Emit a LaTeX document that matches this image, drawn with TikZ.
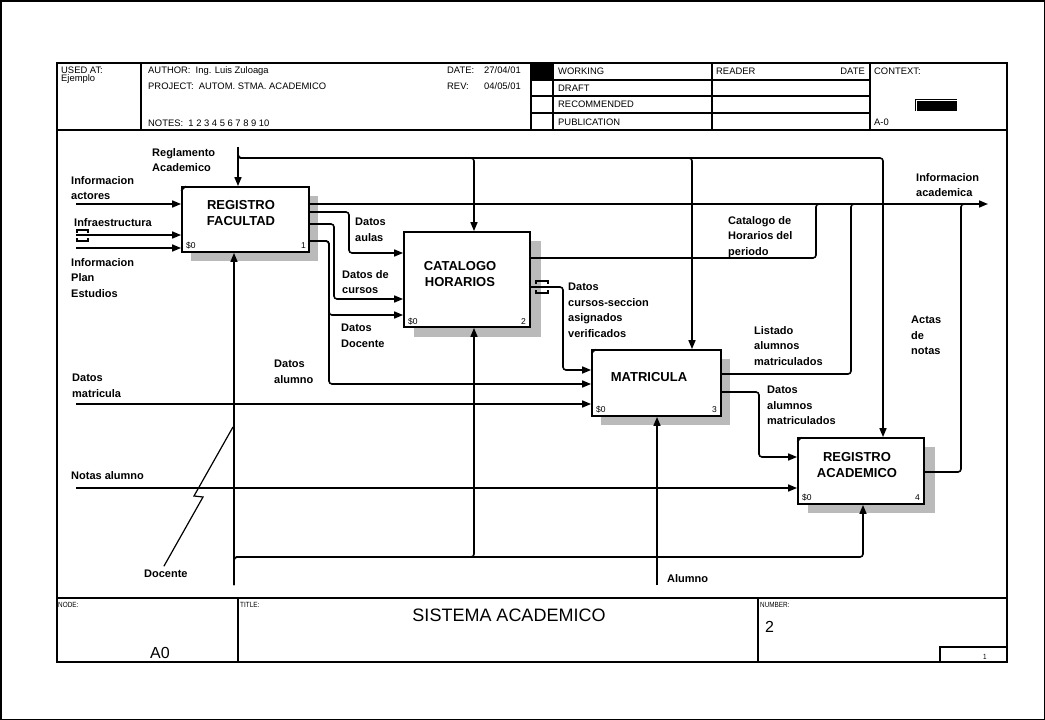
\documentclass[tikz,border=0pt]{standalone}
\usepackage{fontspec}
\setmainfont{Liberation Sans}
\newfontfamily\narrowfont[FakeStretch=0.85]{Liberation Sans}
\usetikzlibrary{arrows.meta}
\begin{document}
\begin{tikzpicture}[x=1pt,y=-1pt,
  ln/.style={line width=1.6pt, rounded corners=3pt},
  arr/.style={ln, -{Triangle[length=9pt,width=7pt]}},
  box/.style={draw, line width=1.8pt, fill=white, inner sep=0pt, rectangle},
  boxshadow/.style={fill=black!27},
  tick/.style={line width=1pt},
  tun/.style={line width=1.4pt},
  lbl/.style={font=\bfseries\fontsize{11}{15.5}\selectfont, align=left, inner sep=0pt, anchor=north west},
  lbl1/.style={font=\bfseries\fontsize{11}{15.5}\selectfont, inner sep=0pt, anchor=base west},
  ttl/.style={font=\bfseries\fontsize{13}{16}\selectfont, align=center, inner sep=0pt, anchor=north},
  hd/.style={font=\fontsize{9.4}{11}\selectfont, inner sep=0pt, anchor=base west},
  sm/.style={font=\fontsize{8.5}{10}\selectfont, inner sep=0pt, anchor=base west},
  ft/.style={font=\narrowfont\fontsize{7.5}{9}\selectfont, inner sep=0pt, anchor=base west},
  frm/.style={line width=1.3pt},
]
\useasboundingbox (0,0) rectangle (1045,720);
\draw[line width=1.5pt] (0.75,0.75) rectangle (1044.25,719.25);
% frame
\draw[frm] (57,63) rectangle (1007,662);
\draw[frm] (57,130) -- (1007,130);
\draw[frm] (57,598) -- (1007,598);
\foreach \x in {141,531,553,712,870} \draw[frm] (\x,63) -- (\x,130);
\foreach \y in {80,96,113} \draw[frm] (531,\y) -- (870,\y);
\fill (531,63) rectangle (553,80);
\fill (915,99) rectangle (957,111);
\draw[white, line width=0.6pt] (957,100) -- (916,100) -- (916,111);
\draw[frm] (238,598) -- (238,662);
\draw[frm] (758,598) -- (758,662);
\draw[frm] (940,662) |- (1007,647);
% header text
\node[hd] (hUsed) at (61,73.5) {USED AT:};
\node[hd] (hEj) at (61,81.5) {Ejemplo};
\node[hd] (hAut) at (148,73.5) {AUTHOR:\ \ Ing. Luis Zuloaga};
\node[hd] (hPro) at (148,89.5) {PROJECT:\ \ AUTOM. STMA. ACADEMICO};
\node[hd] (hNot) at (148,126.5) {NOTES:\ \ 1 2 3 4 5 6 7 8 9 10};
\node[hd] (hDate) at (447,73.5) {DATE:};
\node[hd] (hDateV) at (484,73.5) {27/04/01};
\node[hd] (hRev) at (447,89.5) {REV:};
\node[hd] (hRevV) at (484,89.5) {04/05/01};
\node[hd] (hWork) at (558,74.5) {WORKING};
\node[hd] (hDraft) at (558,91) {DRAFT};
\node[hd] (hRec) at (558,107.5) {RECOMMENDED};
\node[hd] (hPub) at (558,125) {PUBLICATION};
\node[hd] (hRead) at (716,74.5) {READER};
\node[hd, anchor=base east] (hRDate) at (865,74.5) {DATE};
\node[hd] (hCtx) at (874,74.5) {CONTEXT:};
\node[hd] (hA0) at (874,125) {A-0};
% footer text
\node[ft] (fNode) at (58,607) {NODE:};
\node[ft] (fTitle) at (240,607) {TITLE:};
\node[ft] (fNum) at (760,607) {NUMBER:};
\node[font=\fontsize{18}{20}\selectfont, inner sep=0pt, anchor=base] (fSis) at (509,621) {SISTEMA ACADEMICO};
\node[font=\fontsize{16}{18}\selectfont, inner sep=0pt, anchor=base] (fA0) at (160,658) {A0};
\node[font=\fontsize{16}{18}\selectfont, inner sep=0pt, anchor=base west] (fTwo) at (765,632) {2};
\node[ft, anchor=base] (fOne) at (985,659) {1};
% shadows
\fill[boxshadow] (191,196) rectangle (318,261);
\fill[boxshadow] (414,241) rectangle (541,337);
\fill[boxshadow] (601,359) rectangle (730,425);
\fill[boxshadow] (808,447) rectangle (935,513);
% boxes
\node[box, minimum width=127pt, minimum height=65pt] (b1) at (245.5,219.5) {};
\node[box, minimum width=126pt, minimum height=95pt] (b2) at (467,279.5) {};
\node[box, minimum width=129pt, minimum height=66pt] (b3) at (656.5,383) {};
\node[box, minimum width=126pt, minimum height=66pt] (b4) at (861,471) {};
\draw[tick] (b1.north west) ++(0,5) -- ++(5,-5);
\draw[tick] (b3.north west) ++(0,5) -- ++(5,-5);
\draw[tick] (b4.north west) ++(0,5) -- ++(5,-5);
\node[ttl] (t1) at (241,200.3) {REGISTRO\\FACULTAD};
\node[ttl] (t2) at (460,261.3) {CATALOGO\\HORARIOS};
\node[ttl, anchor=base] (t3) at (649,381.7) {MATRICULA};
\node[ttl] (t4) at (857,452.3) {REGISTRO\\ACADEMICO};
\node[sm] (s1) at (186,248) {\$0};
\node[sm, anchor=base east] (n1) at (306,248) {1};
\node[sm] (s2) at (408,324) {\$0};
\node[sm, anchor=base east] (n2) at (526,324) {2};
\node[sm] (s3) at (596,412) {\$0};
\node[sm, anchor=base east] (n3) at (717,412) {3};
\node[sm] (s4) at (802,500) {\$0};
\node[sm, anchor=base east] (n4) at (920,500) {4};
% free ends
\coordinate (inAct) at (76,204);
\coordinate (inInf) at (76,235);
\coordinate (inPlan) at (76,248);
\coordinate (inMat) at (76,404);
\coordinate (inNot) at (76,488);
\coordinate (ctlReg) at (238,147);
\coordinate (mecDoc) at (234,585);
\coordinate (mecAlu) at (657,585);
\coordinate (outIA) at (988,204);
% inputs
\draw[arr] (inAct) -- (b1.west |- inAct);
\draw[arr] (inInf) -- (b1.west |- inInf);
\draw[arr] (inPlan) -- (b1.west |- inPlan);
\draw[tun] (77,233) -- (77,230) -- (88,230) -- (88,233);
\draw[tun] (77,238) -- (77,241) -- (88,241) -- (88,238);
\draw[arr] (inMat) -- (b3.west |- inMat);
\draw[arr] (inNot) -- (b4.west |- inNot);
% controls
\draw[arr] (ctlReg) -- (b1.north -| ctlReg);
\draw[arr] (ctlReg) -- (238,158) -- (474,158) -- (b2.north -| 474,0);
\draw[arr] (ctlReg) -- (238,158) -- (692,158) -- (b3.north -| 692,0);
\draw[arr] (ctlReg) -- (238,158) -- (883,158) -- (b4.north -| 883,0);
% outputs box 1
\draw[arr] (b1.east |- outIA) -- (outIA);
\draw[arr] (b1.east |- 0,212) -- (349,212) -- (349,253) -- (b2.west |- 0,253);
\draw[arr] (b1.east |- 0,224) -- (334,224) -- (334,299) -- (b2.west |- 0,299);
\draw[arr] (b1.east |- 0,241) -- (329,241) -- (329,315) -- (b2.west |- 0,315);
\draw[arr] (b1.east |- 0,241) -- (329,241) -- (329,384) -- (b3.west |- 0,384);
% outputs box 2
\draw[ln] (b2.east |- 0,258) -- (816,258) -- (816,204) -- (826,204);
\draw[arr] (b2.east |- 0,287) -- (563,287) -- (563,370) -- (b3.west |- 0,370);
\draw[tun] (536,284) -- (536,281) -- (548,281) -- (548,284);
\draw[tun] (536,290) -- (536,293) -- (548,293) -- (548,290);
% outputs box 3
\draw[ln] (b3.east |- 0,374) -- (851,374) -- (851,204) -- (861,204);
\draw[arr] (b3.east |- 0,392) -- (759,392) -- (759,457) -- (b4.west |- 0,457);
% output box 4
\draw[ln] (b4.east |- 0,472) -- (961,472) -- (961,204) -- (971,204);
% mechanisms
\draw[arr] (mecDoc) -- (b1.south -| mecDoc);
\draw[arr] (mecDoc) -- (234,557) -- (474,557) -- (b2.south -| 474,0);
\draw[arr] (mecDoc) -- (234,557) -- (863,557) -- (b4.south -| 863,0);
\draw[arr] (mecAlu) -- (b3.south -| mecAlu);
% labels
\node[lbl] (lReg) at (152,148) {Reglamento\\Academico};
\node[lbl] (lAct) at (71,176) {Informacion\\actores};
\node[lbl1] (lInf) at (74,226) {Infraestructura};
\node[lbl] (lPlan) at (71,258) {Informacion\\Plan\\Estudios};
\node[lbl] (lAulas) at (355,218) {Datos\\aulas};
\node[lbl] (lCur) at (342,270) {Datos de\\cursos};
\node[lbl] (lDoc) at (341,324) {Datos\\Docente};
\node[lbl] (lAlu) at (274,360) {Datos\\alumno};
\node[lbl] (lMat) at (72,374) {Datos\\matricula};
\node[lbl1] (lNot) at (71,479) {Notas alumno};
\node[lbl1] (lDocente) at (144,577) {Docente};
\node[lbl1] (lAlumno) at (667,582) {Alumno};
\node[lbl] (lSec) at (568,283) {Datos\\cursos-seccion\\asignados\\verificados};
\node[lbl] (lCat) at (728,216) {Catalogo de\\Horarios del\\periodo};
\node[lbl] (lList) at (754,326) {Listado\\alumnos\\matriculados};
\node[lbl] (lDAM) at (767,386) {Datos\\alumnos\\matriculados};
\node[lbl] (lActas) at (911,316) {Actas\\de\\notas};
\node[lbl] (lIA) at (916,173) {Informacion\\academica};
% lightning from Docente label
\draw[line width=1.2pt] (lDocente.north) ++(-2,-3) -- (203,497) -- (194,496) -- (233,427);
\end{tikzpicture}
\end{document}
